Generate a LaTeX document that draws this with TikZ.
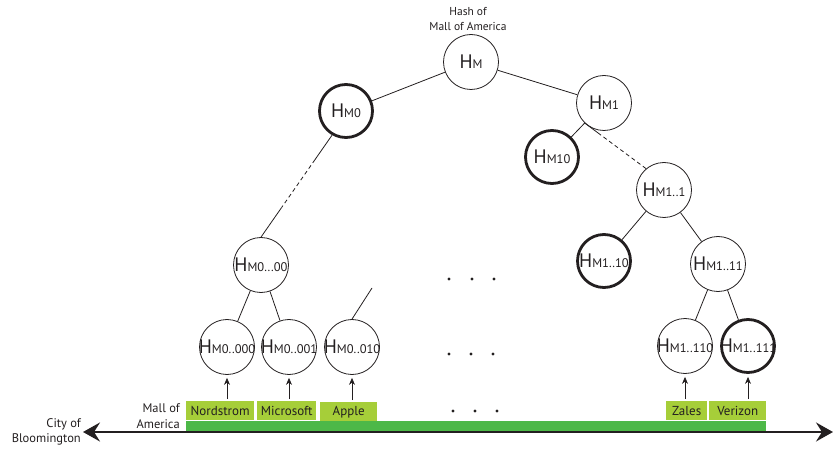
\documentclass[tikz,border=0pt]{standalone}
\usepackage{fontspec}
\setmainfont{PT Sans}
\usetikzlibrary{arrows.meta,calc}
\definecolor{lgreen}{HTML}{A6CE39}
\definecolor{dgreen}{HTML}{4DB848}
\definecolor{txt}{HTML}{231F20}
\newcommand\Hsub[1]{\makebox[0pt]{{\fontsize{19.5}{19.5}\selectfont H}{\fontsize{12.5}{12.5}\selectfont #1}}}
\begin{document}
\begin{tikzpicture}[x=1pt,y=-1pt,
  hn/.style={circle,draw=txt,line width=0.8pt,minimum size=55pt,inner sep=0pt,text=txt},
  hk/.style={hn,line width=2.8pt,minimum size=53pt},
  edge/.style={draw=txt,line width=0.8pt},
  dashedge/.style={edge,dash pattern=on 4pt off 3pt},
  shop/.style={rectangle,fill=lgreen,anchor=north west,minimum height=19pt,inner sep=0pt,text=txt,font=\fontsize{13}{14}\selectfont},
  lbl/.style={align=right,text=txt,font=\fontsize{12.5}{15.5}\selectfont,inner sep=0pt},
  uparr/.style={draw=txt,line width=0.8pt,-{Stealth[length=7pt,width=6pt]},shorten <=2pt,shorten >=3pt},
  dot/.style={fill=txt}
]
\useasboundingbox (0,0) rectangle (833,449);

% title
\node[text=txt,align=center,font=\fontsize{11.5}{15.5}\selectfont,inner sep=0pt] (title) at (468,19) {Hash of\\Mall of America};

% tree nodes
\node[hn] (hm)    at (471,62)  {\Hsub{M}};
\node[hk] (m0)    at (346,111) {\Hsub{M0}};
\node[hn] (m1)    at (604,103) {\Hsub{M1}};
\node[hk] (m10)   at (552,157) {\Hsub{M10}};
\node[hn] (m11)   at (664,190) {\Hsub{M1..1}};
\node[hk] (m110)  at (604,261) {\Hsub{M1..10}};
\node[hn] (m111)  at (718,264) {\Hsub{M1..11}};
\node[hn] (m1110) at (685,346) {\Hsub{M1..110}};
\node[hk] (m1111) at (748,346) {\Hsub{M1..111}};
\node[hn] (m000)  at (261,265) {\Hsub{M0...00}};
\node[hn] (m0000) at (227,347) {\Hsub{M0..000}};
\node[hn] (m0001) at (289,347) {\Hsub{M0..001}};
\node[hn] (m0010) at (352,347) {\Hsub{M0..010}};

% edges
\draw[edge] (hm) -- (m0);
\draw[edge] (hm) -- (m1);
\draw[edge] (m1) -- (m10);
\coordinate (a1) at ($(m1.225)!0.22!(m11.130)$);
\draw[edge] (m1.225) -- (a1);
\draw[dashedge] (a1) -- (m11.130);
\draw[edge] (m11) -- (m110);
\draw[edge] (m11) -- (m111);
\draw[edge] (m111) -- (m1110);
\draw[edge] (m111) -- (m1111);
\coordinate (b1) at ($(m0.240)!0.24!(m000.90)$);
\coordinate (b2) at ($(m0.240)!0.71!(m000.90)$);
\draw[edge] (m0.240) -- (b1);
\draw[dashedge] (b1) -- (b2);
\draw[edge] (b2) -- (m000.90);
\draw[edge] (m000) -- (m0000);
\draw[edge] (m000) -- (m0001);
\coordinate (c1) at (372,288);
\draw[edge] (m0010.north) -- (c1);

% ellipsis dots
\foreach \x in {449,472,494} \fill[dot] (\x,279) circle (1.6pt);
\foreach \x in {449,471,493} \fill[dot] (\x,354) circle (1.6pt);
\foreach \x in {453,475,497} \fill[dot] (\x,411) circle (1.6pt);

% shops
\node[shop,minimum width=68pt] (nord) at (186,401) {Nordstrom};
\node[shop,minimum width=59pt] (micro) at (257,401) {Microsoft};
\node[shop,minimum width=57pt] (apple) at (320,402) {Apple};
\node[shop,minimum width=41pt] (zales) at (666,401) {Zales};
\node[shop,minimum width=57pt] (veri) at (709,401) {Verizon};
\fill[dgreen] (186,421) rectangle (766,431.5);

% arrows up
\draw[uparr] (nord.north -| m0000) -- (m0000.south);
\draw[uparr] (micro.north -| m0001) -- (m0001.south);
\draw[uparr] (apple.north -| m0010) -- (m0010.south);
\draw[uparr] (zales.north -| m1110) -- (m1110.south);
\draw[uparr] (veri.north -| m1111) -- (m1111.south);

% axis
\coordinate (axl) at (83,432);
\coordinate (axr) at (833,432);
\draw[draw=txt,line width=2pt,{Stealth[length=17pt,width=19pt,inset=6pt]}-{Stealth[length=17pt,width=19pt,inset=6pt]}] (axl) -- (axr);

% labels
\node[lbl,anchor=east] (mall) at (180,416) {Mall of\\America};
\node[lbl,anchor=east] (city) at (81,432) {City of\\Bloomington};
\end{tikzpicture}
\end{document}
